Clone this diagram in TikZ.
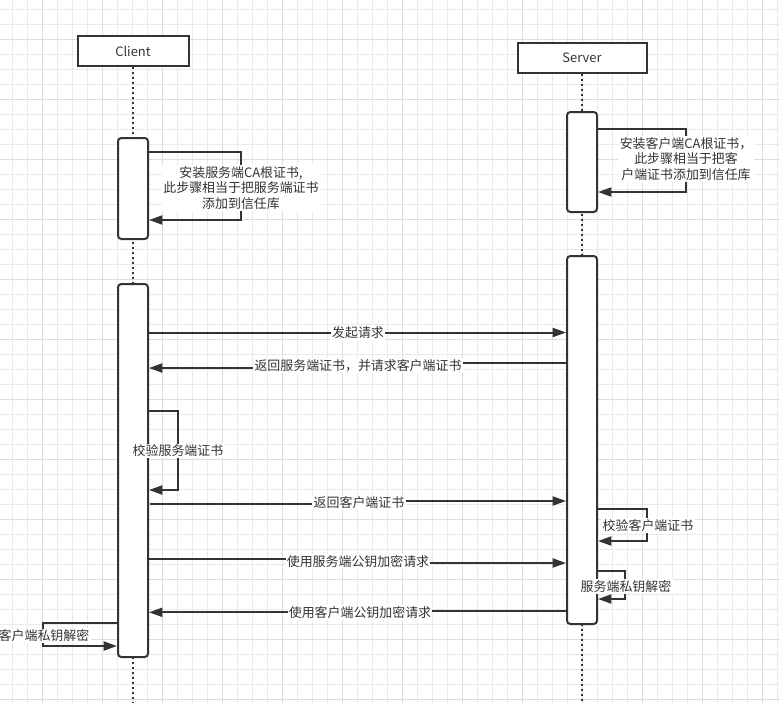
\documentclass[tikz,border=0pt]{standalone}
\usepackage{fontspec}
\newfontfamily\cjk{Noto Sans CJK SC}
\usetikzlibrary{arrows.meta}
\definecolor{lc}{HTML}{333333}
\definecolor{gmin}{HTML}{EAEAEA}
\definecolor{gmaj}{HTML}{DCDCDC}
\begin{document}
\begin{tikzpicture}[x=0.75pt,y=-0.75pt,
  every node/.style={font=\cjk\fontsize{9.7pt}{11.9pt}\selectfont, text=lc},
  actorbox/.style={draw=lc, line width=1.5pt, fill=white, minimum width=#1, minimum height=22.5pt, inner sep=0pt},
  actbox/.style={draw=lc, line width=1.5pt, fill=white, rounded corners=2.5pt, minimum width=22.5pt, minimum height=#1, inner sep=0pt},
  life/.style={draw=lc, line width=1.5pt, dash pattern=on 1.7pt off 2.05pt},
  msg/.style={draw=lc, line width=1.5pt, -{Triangle[length=10pt,width=6.75pt]}},
  lbl/.style={fill=white, inner sep=1pt, align=center},
  gminor/.style={draw=gmin, line width=0.75pt},
  gmajor/.style={draw=gmaj, line width=0.75pt}
]
\useasboundingbox (0,0) rectangle (780,703);
\fill[white] (0,0) rectangle (780,703);
% grid
\foreach \i in {0,...,51} {\draw[gminor] (12.3+15*\i,0) -- (12.3+15*\i,703);}
\foreach \i in {0,...,46} {\draw[gminor] (0,9+15*\i) -- (780,9+15*\i);}
\foreach \i in {0,...,12} {\draw[gmajor] (42.3+60*\i,0) -- (42.3+60*\i,703);}
\foreach \i in {0,...,11} {\draw[gmajor] (0,39+60*\i) -- (780,39+60*\i);}

% actors
\node[actorbox=83.25pt] (client) at (133,51) {Client};
\node[actorbox=96.75pt] (server) at (582,58) {Server};
\coordinate (cend) at (133,703);
\coordinate (send) at (582,703);
\draw[life] (client.south) -- (client.south |- cend);
\draw[life] (server.south) -- (server.south |- send);

% activations
\node[actbox=75.75pt] (ca1) at (133,188.5) {};
\node[actbox=279.75pt] (ca2) at (133,470.5) {};
\node[actbox=75pt] (sa1) at (582,162) {};
\node[actbox=276pt] (sa2) at (582,440) {};

% client self loop 1
\coordinate (l1a) at (241,152); \coordinate (l1b) at (241,220);
\draw[msg] (ca1.east |- l1a) -- (l1a) -- (l1b) -- (ca1.east |- l1b);
\node[lbl] (t1) at (241,188) {安装服务端CA根证书,\\此步骤相当于把服务端证书\\添加到信任库};

% server self loop 1
\coordinate (l2a) at (686,129); \coordinate (l2b) at (686,192);
\draw[msg] (sa1.east |- l2a) -- (l2a) -- (l2b) -- (sa1.east |- l2b);
\node[lbl] (t2) at (686,159) {安装客户端CA根证书，\\此步骤相当于把客\\户端证书添加到信任库};

% message 1
\coordinate (m1) at (358,332.5);
\draw[msg] (ca2.east |- m1) -- (sa2.west |- m1);
\node[lbl] (t3) at (m1) {发起请求};

% message 2
\coordinate (m2a) at (358,363); \coordinate (m2b) at (358,368);
\draw[msg] (sa2.west |- m2a) -- (m2a) -- (m2b) -- (ca2.east |- m2b);
\node[lbl] (t4) at (358,365.7) {返回服务端证书，并请求客户端证书};

% client self loop 2
\coordinate (l3a) at (178,411); \coordinate (l3b) at (178,490);
\draw[msg] (ca2.east |- l3a) -- (l3a) -- (l3b) -- (ca2.east |- l3b);
\node[lbl] (t5) at (178,451) {校验服务端证书};

% message 3
\coordinate (m3s) at (150,504);
\coordinate (m3a) at (359,504); \coordinate (m3b) at (359,501);
\draw[msg] (m3s) -- (m3a) -- (m3b) -- (sa2.west |- m3b);
\node[lbl] (t6) at (359,503) {返回客户端证书};

% server self loop 2
\coordinate (l4a) at (647,509); \coordinate (l4b) at (647,541);
\draw[msg] (sa2.east |- l4a) -- (l4a) -- (l4b) -- (sa2.east |- l4b);
\node[lbl] (t7) at (648,525.5) {校验客户端证书};

% message 4
\coordinate (m4a) at (358,559); \coordinate (m4b) at (358,563);
\draw[msg] (ca2.east |- m4a) -- (m4a) -- (m4b) -- (sa2.west |- m4b);
\node[lbl] (t8) at (358,561.5) {使用服务端公钥加密请求};

% server self loop 3
\coordinate (l5a) at (625,571); \coordinate (l5b) at (625,599);
\draw[msg] (sa2.east |- l5a) -- (l5a) -- (l5b) -- (sa2.east |- l5b);
\node[lbl] (t9) at (626,586.5) {服务端私钥解密};

% message 5
\coordinate (m5a) at (360,611); \coordinate (m5b) at (360,612.3);
\draw[msg] (sa2.west |- m5a) -- (m5a) -- (m5b) -- (ca2.east |- m5b);
\node[lbl] (t10) at (360,612.5) {使用客户端公钥加密请求};

% client self loop 3 (left)
\coordinate (l6a) at (43,623); \coordinate (l6b) at (43,646);
\draw[msg] (ca2.west |- l6a) -- (l6a) -- (l6b) -- (ca2.west |- l6b);
\node[lbl] (t11) at (44,636) {客户端私钥解密};
\end{tikzpicture}
\end{document}
